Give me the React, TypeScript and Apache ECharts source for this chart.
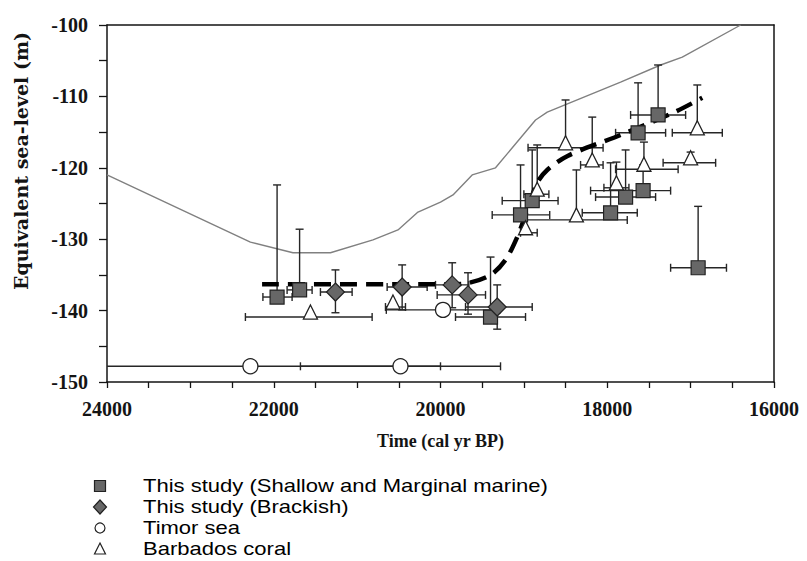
import React, { useEffect, useRef } from "react";
import * as echarts from "echarts";

// ---- data: [time (cal yr BP), sea level (m), time lo, time hi, level lo, level hi]
const shallowMarine: number[][] = [
  [21960, -138.1, 22130, 21780, -138.1, -122.4],
  [21690, -137.1, 21840, 21540, -137.1, -128.6],
  [19400, -140.9, 19820, 18980, -140.9, -132.5],
  [19040, -126.6, 19380, 18690, -126.6, -119.6],
  [18900, -124.6, 19260, 18590, -124.6, -117.5],
  [17960, -126.3, 18300, 17640, -126.3, -119.3],
  [17780, -124.1, 18140, 17420, -124.1, -117.5],
  [17570, -123.2, 18200, 17240, -123.2, -119.6],
  [17630, -115.1, 17900, 17300, -115.1, -108.1],
  [17390, -112.6, 17720, 17060, -112.6, -105.6],
  [16910, -134.0, 17240, 16570, -134.0, -125.4],
];

const brackish: number[][] = [
  [21260, -137.4, 21440, 21060, -140.3, -134.3],
  [20460, -136.7, 20640, 20160, -139.9, -133.6],
  [19860, -136.4, 20060, 19660, -139.6, -133.3],
  [19670, -137.8, 20040, 19460, -140.5, -134.7],
  [19320, -139.5, 19700, 18900, -142.6, -136.4],
];

const timorSea: number[][] = [
  [22280, -147.8, 24600, 20000, -147.8, -147.8],
  [20480, -147.8, 21680, 19280, -147.8, -147.8],
  [19970, -139.9, 20650, 19290, -139.9, -139.9],
];

const barbadosCoral: number[][] = [
  [21560, -140.9, 22340, 20820, -140.9, -140.9],
  [20570, -139.5, 20660, 20420, -139.5, -139.5],
  [18500, -117.2, 18950, 18050, -117.2, -110.5],
  [18180, -119.6, 18320, 18050, -119.6, -112.9],
  [18370, -127.3, 19010, 17760, -127.3, -120.3],
  [18840, -123.7, 19000, 18700, -123.7, -116.8],
  [18980, -129.1, 19040, 18840, -129.1, -129.1],
  [17890, -122.8, 18040, 17740, -122.8, -119.2],
  [17560, -120.2, 17900, 17150, -120.2, -116.4],
  [16920, -115.1, 17220, 16620, -115.1, -108.4],
  [17000, -119.3, 17330, 16700, -119.3, -117.8],
];

const fitCurve: number[][] = [
  [22140, -136.3], [19900, -136.3], [19700, -136.2], [19400, -135.0],
  [19220, -132.9], [19080, -129.7], [18980, -126.6], [18840, -122.1],
  [18720, -120.3], [18470, -118.3], [17840, -115.4], [17210, -112.3],
  [16860, -110.2],
];

const modelCurve: number[][] = [
  [24000, -121.0], [22280, -130.4], [21770, -131.9], [21320, -131.9],
  [20810, -130.1], [20510, -128.7], [20270, -126.2], [20000, -124.8],
  [19850, -123.8], [19620, -121.0], [19340, -120.0], [18860, -113.3],
  [18720, -112.2], [17840, -108.0], [17360, -105.6], [17100, -104.5],
  [16400, -100.0],
];

const seriesNames = [
  "This study (Shallow and Marginal marine)",
  "This study (Brackish)",
  "Timor sea",
  "Barbados coral",
];

const xTicks = { min: 16000, max: 24000, interval: 2000 };
const yTicks = { min: -150, max: -100, interval: 10 };
const xTitle = "Time (cal yr BP)";
const yTitle = "Equivalent sea-level (m)";

const SERIF = '"Liberation Serif", "Times New Roman", serif';
const WIDE_SERIF = '"DejaVu Serif", "Liberation Serif", serif';
const SANS = '"Liberation Sans", Arial, sans-serif';
const INK = "#141414";
const MARK_FILL = "#676767";

const errRender = (params: any, api: any) => {
  const t = api.value(0), v = api.value(1);
  const tLo = api.value(2), tHi = api.value(3), vLo = api.value(4), vHi = api.value(5);
  const style = { stroke: "#262626", lineWidth: 1.4 };
  const cap = 4;
  const children: any[] = [];
  if (tLo !== tHi) {
    const a = api.coord([tLo, v]);
    const b = api.coord([tHi, v]);
    children.push({ type: "line", shape: { x1: a[0], y1: a[1], x2: b[0], y2: b[1] }, style });
    children.push({ type: "line", shape: { x1: a[0], y1: a[1] - cap, x2: a[0], y2: a[1] + cap }, style });
    children.push({ type: "line", shape: { x1: b[0], y1: b[1] - cap, x2: b[0], y2: b[1] + cap }, style });
  }
  if (vLo !== vHi) {
    const a = api.coord([t, vLo]);
    const b = api.coord([t, vHi]);
    children.push({ type: "line", shape: { x1: a[0], y1: a[1], x2: b[0], y2: b[1] }, style });
    if (vLo !== v) children.push({ type: "line", shape: { x1: a[0] - cap, y1: a[1], x2: a[0] + cap, y2: a[1] }, style });
    if (vHi !== v) children.push({ type: "line", shape: { x1: b[0] - cap, y1: b[1], x2: b[0] + cap, y2: b[1] }, style });
  }
  return { type: "group", children };
};

const errSeries = (data: number[][]) => ({
  type: "custom",
  renderItem: errRender,
  data,
  encode: { x: 0, y: 1 },
  clip: true,
  silent: true,
  z: 2,
});

// legend layout (page pixels)
const LEG_MARK_X = 100;
const LEG_TEXT_X = 143;
const LEG_ROW_Y = [486, 507, 528, 549];

const legendMarker = (i: number, cy: number): any => {
  const cx = LEG_MARK_X;
  const dark = { stroke: "#222", lineWidth: 1.2 };
  if (i === 0)
    return { type: "rect", shape: { x: cx - 5.5, y: cy - 5.5, width: 11, height: 11 }, style: { fill: MARK_FILL, ...dark } };
  if (i === 1)
    return {
      type: "polygon",
      shape: { points: [[cx, cy - 7], [cx + 6.5, cy], [cx, cy + 7], [cx - 6.5, cy]] },
      style: { fill: MARK_FILL, ...dark },
    };
  if (i === 2) return { type: "circle", shape: { cx, cy, r: 5 }, style: { fill: "#fff", ...dark } };
  return {
    type: "polygon",
    shape: { points: [[cx, cy - 6], [cx + 5.5, cy + 5], [cx - 5.5, cy + 5]] },
    style: { fill: "#fff", ...dark },
  };
};

export default function App() {
  const ref = useRef<HTMLDivElement>(null);
  useEffect(() => {
    if (!ref.current) return;
    const chart = echarts.init(ref.current, undefined, { renderer: "svg" });
    const legendGraphics: any[] = [];
    seriesNames.forEach((name, i) => {
      const cy = LEG_ROW_Y[i];
      legendGraphics.push(legendMarker(i, cy));
      legendGraphics.push({
        type: "text",
        x: LEG_TEXT_X,
        y: cy,
        scaleX: 1.19,
        style: {
          text: name,
          font: `18.5px ${SANS}`,
          fill: "#000",
          align: "left",
          verticalAlign: "middle",
        },
      });
    });
    const option: any = {
      animation: false,
      backgroundColor: "#ffffff",
      grid: { left: 107, top: 25, width: 667, height: 357 },
      graphic: [
        {
          type: "text",
          x: 21,
          y: 161,
          rotation: Math.PI / 2,
          style: {
            text: yTitle,
            font: `bold 19px ${WIDE_SERIF}`,
            fill: INK,
            align: "center",
            verticalAlign: "middle",
          },
        },
        ...legendGraphics,
      ],
      xAxis: [
        {
          type: "value",
          min: xTicks.min,
          max: xTicks.max,
          interval: xTicks.interval,
          inverse: true,
          position: "bottom",
          axisLine: { show: true, lineStyle: { color: INK, width: 1.5 } },
          axisTick: { show: true, inside: false, length: 6, lineStyle: { color: INK, width: 1.3 } },
          minorTick: { show: true, splitNumber: 4, length: 6, lineStyle: { color: INK, width: 1.3 } },
          splitLine: { show: false },
          axisLabel: {
            fontFamily: SERIF,
            fontSize: 20,
            fontWeight: "bold",
            color: INK,
            margin: 17,
            formatter: (v: number) => String(v),
          },
          name: xTitle,
          nameLocation: "middle",
          nameGap: 50,
          nameTextStyle: { fontFamily: SERIF, fontSize: 18, fontWeight: "bold", color: INK },
        },
        {
          type: "value",
          min: xTicks.min,
          max: xTicks.max,
          inverse: true,
          position: "top",
          axisLine: { show: true, lineStyle: { color: INK, width: 1.5 } },
          axisTick: { show: false },
          axisLabel: { show: false },
          splitLine: { show: false },
        },
      ],
      yAxis: [
        {
          type: "value",
          min: yTicks.min,
          max: yTicks.max,
          interval: yTicks.interval,
          position: "left",
          axisLine: { show: true, lineStyle: { color: INK, width: 1.5 } },
          axisTick: { show: true, inside: false, length: 8, lineStyle: { color: INK, width: 1.3 } },
          minorTick: { show: true, splitNumber: 2, length: 8, lineStyle: { color: INK, width: 1.3 } },
          splitLine: { show: false },
          axisLabel: {
            fontFamily: SERIF,
            fontSize: 20,
            fontWeight: "bold",
            color: INK,
            margin: 19,
          },
        },
        {
          type: "value",
          min: yTicks.min,
          max: yTicks.max,
          position: "right",
          axisLine: { show: true, lineStyle: { color: INK, width: 1.5 } },
          axisTick: { show: false },
          axisLabel: { show: false },
          splitLine: { show: false },
        },
      ],
      series: [
        {
          type: "line",
          name: "model",
          data: modelCurve,
          symbol: "none",
          lineStyle: { color: "#808080", width: 1.4 },
          z: 1,
          silent: true,
        },
        errSeries(shallowMarine),
        errSeries(brackish),
        errSeries(timorSea),
        errSeries(barbadosCoral),
        {
          type: "line",
          name: "fit",
          data: fitCurve,
          symbol: "none",
          smooth: 0.3,
          lineStyle: { color: "#000", width: 4.5, type: [17, 9], cap: "butt" },
          z: 3,
          silent: true,
        },
        {
          type: "scatter",
          name: seriesNames[0],
          data: shallowMarine.map((d) => [d[0], d[1]]),
          symbol: "rect",
          symbolSize: 14,
          itemStyle: { color: MARK_FILL, borderColor: "#222", borderWidth: 1.2, opacity: 1 },
          z: 4,
        },
        {
          type: "scatter",
          name: seriesNames[1],
          data: brackish.map((d) => [d[0], d[1]]),
          symbol: "diamond",
          symbolSize: 18,
          itemStyle: { color: MARK_FILL, borderColor: "#222", borderWidth: 1.2, opacity: 1 },
          z: 4,
        },
        {
          type: "scatter",
          name: seriesNames[2],
          data: timorSea.map((d) => [d[0], d[1]]),
          symbol: "circle",
          symbolSize: 15,
          itemStyle: { color: "#ffffff", borderColor: "#222", borderWidth: 1.3, opacity: 1 },
          z: 4,
        },
        {
          type: "scatter",
          name: seriesNames[3],
          data: barbadosCoral.map((d) => [d[0], d[1]]),
          symbol: "triangle",
          symbolSize: 14,
          symbolOffset: [0, -5],
          itemStyle: { color: "#ffffff", borderColor: "#222", borderWidth: 1.3, opacity: 1 },
          z: 4,
        },
      ],
    };
    chart.setOption(option);
    return () => chart.dispose();
  }, []);
  return (
    <div
      ref={ref}
      style={{ position: "absolute", left: 0, top: 0, width: 807, height: 561, background: "#fff" }}
    />
  );
}
